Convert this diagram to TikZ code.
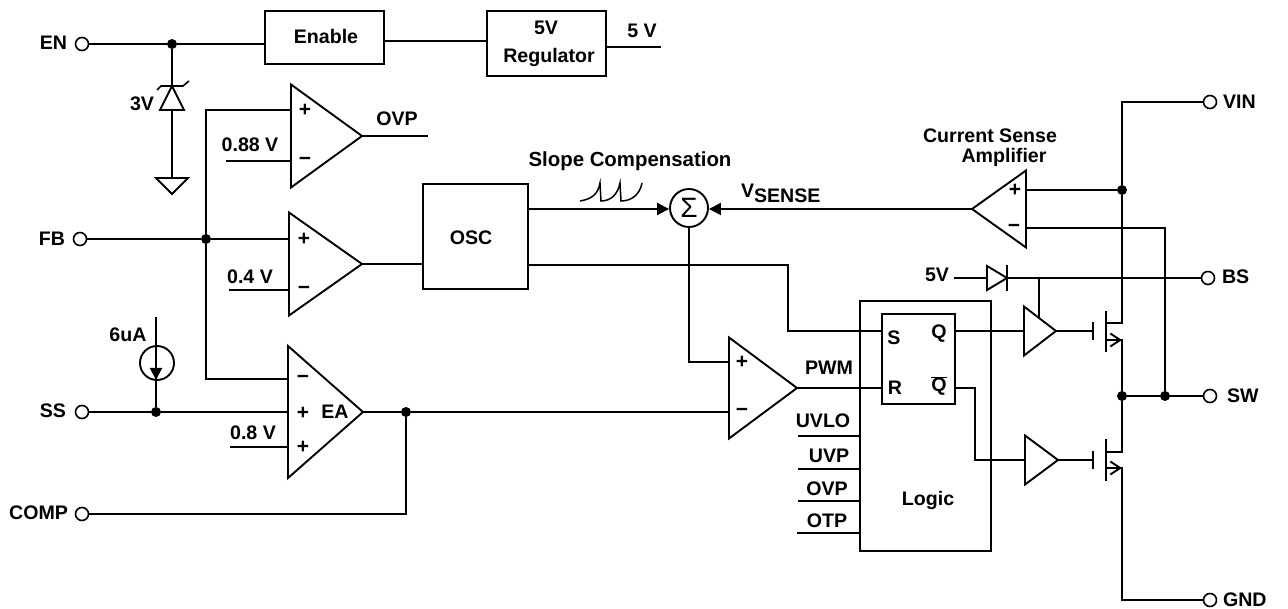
\documentclass[tikz,border=0pt]{standalone}
\usepackage{fontspec}
\setmainfont{Liberation Sans}
\usetikzlibrary{shapes.geometric,arrows.meta,calc}
\newcommand{\lbl}{\bfseries\fontsize{19.6}{21}\selectfont}
\newcommand{\sgn}{\bfseries\fontsize{21}{21}\selectfont}
\tikzset{
  wire/.style={line width=1.9pt,line join=miter,line cap=butt},
  block/.style={draw,line width=1.9pt,inner sep=0pt,outer sep=0pt},
  tri/.style={draw,line width=1.9pt,isosceles triangle,isosceles triangle stretches=true,inner sep=0pt,outer sep=0pt},
  amp/.style={tri,anchor=apex},
  ampl/.style={amp,shape border rotate=180},
  pin/.style={draw,circle,line width=1.6pt,fill=white,minimum size=13pt,inner sep=0pt,outer sep=0pt},
  dot/.style={fill,circle,minimum size=10pt,inner sep=0pt,outer sep=0pt},
  lab/.style={inner sep=0pt,outer sep=0pt,font=\lbl},
  sign/.style={inner sep=0pt,outer sep=0pt,font=\sgn},
  tip/.style={-{Triangle[length=12pt,width=12pt]}},
  chev/.style={-{Straight Barb[length=10pt,width=13pt,line width=1.9pt]}},
}
\begin{document}
\begin{tikzpicture}[x=1pt,y=-1pt]
\useasboundingbox (0,0) rectangle (1288,609);
% blocks
\node[block,minimum width=119pt,minimum height=53pt] (enable) at (324.5,37.5) {};
\node[lab] (enableT) at (326,36) {Enable};
\node[block,minimum width=119pt,minimum height=65pt] (reg) at (546.5,43.5) {};
\node[lab] (regT1) at (546,28) {5V};
\node[lab] (regT2) at (549,57) {Regulator};
\node[block,minimum width=105pt,minimum height=105pt] (osc) at (475.5,236.5) {};
\node[lab] (oscT) at (471,238) {OSC};
\node[block,minimum width=131pt,minimum height=250pt] (logic) at (925.5,426) {};
\node[lab] (logicT) at (928,500) {Logic};
\node[block,minimum width=73pt,minimum height=90pt,fill=white] (sr) at (918.5,359) {};
\node[lab] (srS) at (894,338) {S};
\node[lab] (srR) at (895,388) {R};
\node[lab] (srQ) at (939,334) {Q};
\node[lab] (srQb) at (939,386) {$\overline{\mbox{Q}}$};
% pins
\node[pin] (en) at (82,44) {};   \node[lab,anchor=east] (enL) at (67,43) {EN};
\node[pin] (fb) at (80,239) {};  \node[lab,anchor=east] (fbL) at (65,239) {FB};
\node[pin] (ss) at (82,412) {};  \node[lab,anchor=east] (ssL) at (66,411) {SS};
\node[pin] (comp) at (82,514) {};\node[lab,anchor=east] (compL) at (68,513) {COMP};
\node[pin] (vin) at (1210,102) {};\node[lab,anchor=west] (vinL) at (1223,102) {VIN};
\node[pin] (bs) at (1208,278) {}; \node[lab,anchor=west] (bsL) at (1222,277) {BS};
\node[pin] (sw) at (1210,396) {}; \node[lab,anchor=west] (swL) at (1227,396) {SW};
\node[pin] (gnd) at (1210,600) {};\node[lab,anchor=west] (gndL) at (1223,600) {GND};
% amplifiers
\node[amp,minimum width=103pt,minimum height=71pt] (ovpA) at (362,136) {};
\node[amp,minimum width=103pt,minimum height=73pt] (oscA) at (362,264) {};
\node[amp,minimum width=132pt,minimum height=75pt] (ea) at (363,412) {};
\node[amp,minimum width=101pt,minimum height=68pt] (pwmA) at (797,388) {};
\node[amp,minimum width=49pt,minimum height=32pt] (drvH) at (1056,331) {};
\node[amp,minimum width=49pt,minimum height=33pt] (drvL) at (1058,460) {};
\node[ampl,minimum width=77pt,minimum height=54pt] (csa) at (972,209) {};
% input pins
\coordinate (ovpP) at (291,110); \coordinate (ovpM) at (291,161);
\coordinate (oscP) at (289,239); \coordinate (oscM) at (289,290);
\coordinate (eaM) at (288,379); \coordinate (eaP) at (288,412); \coordinate (eaR) at (288,447);
\coordinate (pwmP) at (729,362); \coordinate (pwmM) at (729,412);
\coordinate (csaP) at (1026,190); \coordinate (csaM) at (1026,228);
% signs
\foreach \n/\x/\y/\s in {a/305/110/+,b/305/161/\textminus,c/304/239/+,d/304/290/\textminus,e/303/379/\textminus,f/303/413/+,g/303/447/+,h/742/362/+,i/742/412/\textminus,j/1015/190/+,k/1014/228/\textminus}
  \node[sign] (sg\n) at (\x,\y) {\s};
\node[lab] (eaT) at (335,412) {EA};
% junctions
\node[dot] (dEn) at (172,44) {};
\node[dot] (dFb) at (206,239) {};
\node[dot] (dSs) at (156,412) {};
\node[dot] (dEa) at (406,412) {};
\node[dot] (dCs) at (1122,190) {};
\node[dot] (dM) at (1122,396) {};
\node[dot] (dSw) at (1165,396) {};
% summer
\node[draw,circle,line width=1.9pt,minimum size=38pt,inner sep=0pt,font=\fontsize{28}{28}\selectfont] (sum) at (689,208) {Σ};
% free ends
\coordinate (ovpOut) at (428,136);
\coordinate (refA) at (226,161);
\coordinate (refB) at (229,290);
\coordinate (refC) at (230,447);
\coordinate (regOut) at (661,47);
\coordinate (uvlo) at (798,436);
\coordinate (uvp) at (798,469);
\coordinate (ovp) at (798,501);
\coordinate (otp) at (797,533);
\coordinate (v5) at (954,278);
\coordinate (isTop) at (156,317);
% top
\draw[wire] (en) -- (dEn) -- (265,44);
\draw[wire] (384,41) -- (487,41);
\draw[wire] (606,47) -- (regOut);
\node[lab] (v5L) at (642,31) {5 V};
% zener and ground
\node[tri,shape border rotate=90,minimum width=24pt,minimum height=24pt,anchor=apex] (zen) at (172,86) {};
\node[tri,shape border rotate=-90,minimum width=32pt,minimum height=16pt,anchor=apex] (gndS) at (172,194) {};
\draw[wire] (dEn) -- (172,86);
\draw[wire] (172,110) -- (172,178);
\draw[wire,line width=1.6pt] (157,90) -- (161,86) -- (183,86) -- (189,81);
\node[lab] (zenL) at (142,104) {3V};
% FB and amps
\draw[wire] (fb) -- (dFb) -- (oscP);
\draw[wire] (dFb) |- (ovpP);
\draw[wire] (dFb) |- (eaM);
\draw[wire] (refA) -- (ovpM);
\draw[wire] (refB) -- (oscM);
\draw[wire] (refC) -- (eaR);
\draw[wire] (ovpA.apex) -- (ovpOut);
\node[lab] (ovpL) at (397,119) {OVP};
\node[lab] (l088) at (250,145) {0.88 V};
\node[lab] (l04) at (250,277) {0.4 V};
\node[lab] (l08) at (253,433) {0.8 V};
\draw[wire] (oscA.apex) -- (423,264);
% SS
\draw[wire] (ss) -- (dSs) -- (eaP);
\node[draw,circle,line width=1.9pt,minimum size=34pt,inner sep=0pt] (isrc) at (157,363) {};
\draw[wire] (isTop) -- (dSs);
\draw[wire,tip] (156,360) -- (156,380);
\node[lab] (l6u) at (128,335) {6uA};
% EA output
\draw[wire] (ea.apex) -- (dEa) -- (pwmM);
\draw[wire] (comp) -| (dEa);
% OSC outputs
\draw[wire,tip] (528,209) -- (sum.west |- 0,209);
\draw[wire] (528,265) -- (788,265) |- (sr.west |- 0,331);
\draw[wire] (sum) |- (pwmP);
\node[lab,font=\bfseries\fontsize{20.4}{22}\selectfont] (slope) at (630,161) {Slope Compensation};
\draw[line width=1.5pt] (580,201) .. controls (592,199) and (598,194) .. (600,183) -- (601,201) .. controls (611,201) and (618,194) .. (620,183) -- (621,201) .. controls (632,201) and (640,194) .. (642,183);
% sense
\draw[wire,tip] (csa.apex) -- (sum.east |- 0,209);
\node[lab,anchor=base west] (vs) at (741,198) {V\raisebox{-5pt}{SENSE}};
\node[lab,anchor=base] (csT1) at (990,143) {Current Sense};
\node[lab,anchor=base] (csT2) at (1004,163) {Amplifier};
\draw[wire] (csaP) -- (dCs);
\draw[wire] (csaM) -- (1165,228) -- (dSw);
\draw[wire] (vin) -| (dCs);
% PWM and logic
\draw[wire] (pwmA.apex) -- (sr.west |- 0,388);
\node[lab] (pwmL) at (829,368) {PWM};
\draw[wire] (uvlo) -- (860,436);
\draw[wire] (uvp) -- (860,469);
\draw[wire] (ovp) -- (860,501);
\draw[wire] (otp) -- (860,533);
\node[lab] (lU) at (823,421) {UVLO};
\node[lab] (lUv) at (829,456) {UVP};
\node[lab] (lO) at (827,489) {OVP};
\node[lab] (lOt) at (827,521) {OTP};
% drivers
\draw[wire] (sr.east |- 0,331) -- (1024,331);
\draw[wire] (sr.east |- 0,388) -- (975,388) |- (1025,460);
% BS
\node[lab] (l5v) at (937,275) {5V};
\node[tri,minimum width=24pt,minimum height=20pt,anchor=apex] (dio) at (1007,278) {};
\draw[wire] (v5) -- (987,278);
\draw[wire] (1007,265) -- (1007,291);
\draw[wire] (dio.apex) -- (bs);
\draw[wire] (1039,278) -- (1039,318);
% MOSFETs
\draw[wire] (drvH.apex) -- (1093,331);
\draw[wire] (1093,322) -- (1093,340);
\draw[wire] (1106,311) -- (1106,352);
\draw[wire] (dCs) -- (1122,323) -- (1106,323);
\draw[wire,chev] (1106,340) -- (1122,340);
\draw[wire] (1122,339) -- (dM);
\draw[wire] (dM) -- (dSw) -- (sw);
\draw[wire] (drvL.apex) -- (1093,460);
\draw[wire] (1093,451) -- (1093,469);
\draw[wire] (1106,439) -- (1106,481);
\draw[wire] (dM) -- (1122,452) -- (1106,452);
\draw[wire,chev] (1106,468) -- (1122,468);
\draw[wire] (1122,467) -- (1122,600) -- (gnd);
\end{tikzpicture}
\end{document}
